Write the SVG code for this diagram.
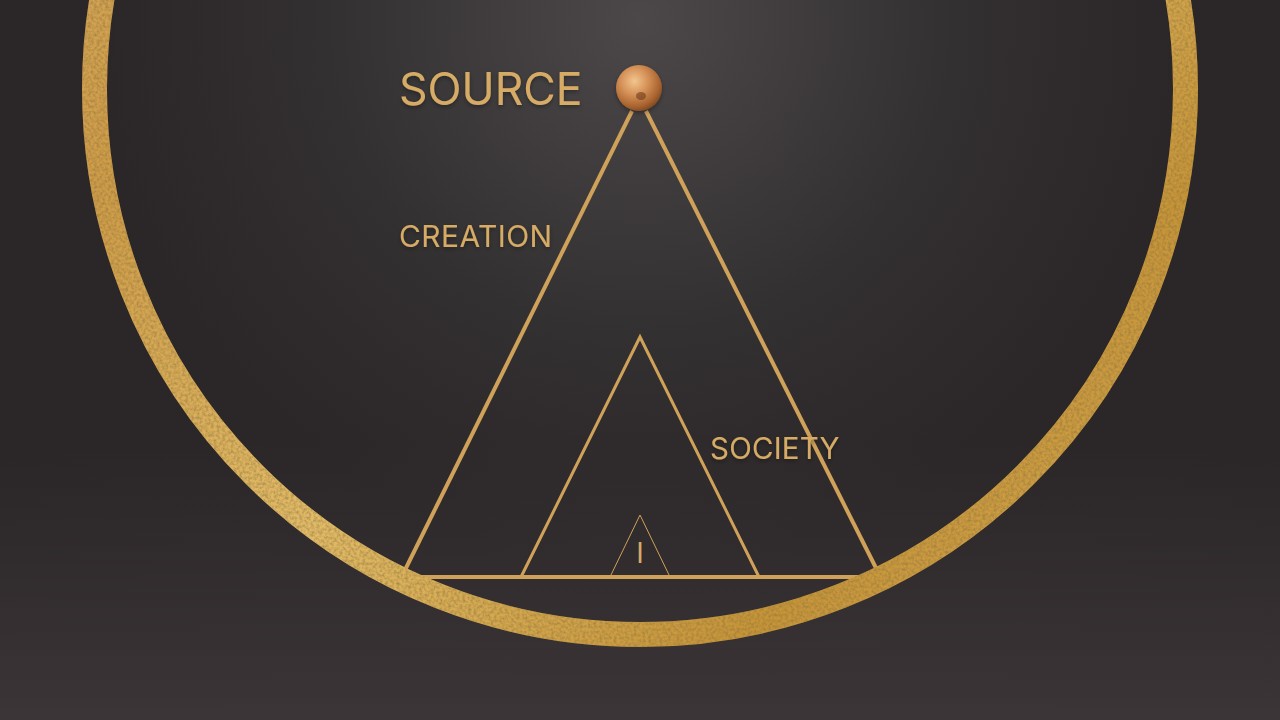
<svg xmlns="http://www.w3.org/2000/svg" width="1280" height="720" viewBox="0 0 1280 720">
  <defs>
    <radialGradient id="bg" cx="640" cy="20" r="900" gradientUnits="userSpaceOnUse">
      <stop offset="0" stop-color="#4c4849"/>
      <stop offset="0.35" stop-color="#333031"/>
      <stop offset="0.6" stop-color="#2b2628"/>
      <stop offset="1" stop-color="#2a2527"/>
    </radialGradient>
    <linearGradient id="floor" x1="0" y1="440" x2="0" y2="720" gradientUnits="userSpaceOnUse">
      <stop offset="0" stop-color="#3a3436" stop-opacity="0"/>
      <stop offset="1" stop-color="#3d3739" stop-opacity="0.9"/>
    </linearGradient>
    <linearGradient id="gold" x1="0" y1="0" x2="1" y2="1">
      <stop offset="0" stop-color="#ddb06a"/>
      <stop offset="0.3" stop-color="#cf9c48"/>
      <stop offset="0.55" stop-color="#e2bb68"/>
      <stop offset="0.8" stop-color="#c79438"/>
      <stop offset="1" stop-color="#d8ad5a"/>
    </linearGradient>
    <radialGradient id="sphere" cx="0.4" cy="0.35" r="0.7">
      <stop offset="0" stop-color="#f2c58f"/>
      <stop offset="0.4" stop-color="#d7945a"/>
      <stop offset="0.8" stop-color="#a8622e"/>
      <stop offset="1" stop-color="#7a4420"/>
    </radialGradient>
    <filter id="grain" x="-5%" y="-5%" width="110%" height="110%">
      <feTurbulence type="fractalNoise" baseFrequency="0.35" numOctaves="2" seed="3" result="n"/>
      <feColorMatrix in="n" type="matrix" values="0 0 0 0 0.25  0 0 0 0 0.18  0 0 0 0 0.05  0 0 0 1.3 -0.45" result="c"/>
      <feComposite in="c" in2="SourceGraphic" operator="in" result="t"/>
      <feMerge><feMergeNode in="SourceGraphic"/><feMergeNode in="t"/></feMerge>
    </filter>
    <filter id="shadow" x="-20%" y="-20%" width="140%" height="140%">
      <feDropShadow dx="0" dy="2" stdDeviation="2" flood-color="#000" flood-opacity="0.35"/>
    </filter>
  </defs>
  <style>
    .line { fill: none; stroke: #cfa159; stroke-linecap: butt; stroke-linejoin: miter; }
    .label { font-family: Inter, "Noto Sans", "Liberation Sans", sans-serif; fill: #d6ab65; }
  </style>

  <rect width="1280" height="720" fill="url(#bg)"/>
  <rect y="440" width="1280" height="280" fill="url(#floor)"/>

  <g id="connectors">
    <line class="line" x1="404" y1="577" x2="876" y2="577" stroke-width="4"/>
    <line class="line" x1="632" y1="111" x2="404" y2="572" stroke-width="4"/>
    <line class="line" x1="646" y1="111" x2="877" y2="570" stroke-width="4"/>
  </g>

  <g id="society-triangle">
    <polyline class="line" points="521,577 640,337 759,577" stroke-width="3"/>
  </g>

  <g id="i-triangle">
    <polyline class="line" points="610,577 640,515 670,577" stroke-width="1"/>
    <text class="label" x="640" y="563" font-size="28" text-anchor="middle">I</text>
  </g>

  <g id="ring">
    <circle cx="640" cy="89" r="545.5" fill="none" stroke="url(#gold)" stroke-width="25" filter="url(#grain)"/>
  </g>

  <g id="source">
    <circle cx="639" cy="88" r="23" fill="url(#sphere)" filter="url(#shadow)"/>
    <ellipse cx="641" cy="96" rx="5" ry="4" fill="#6e3a1c" opacity="0.6"/>
    <text class="label" x="399" y="105" font-size="44.5" filter="url(#shadow)">SOURCE</text>
  </g>

  <g id="creation">
    <text class="label" x="399" y="247" font-size="30" letter-spacing="0.4" filter="url(#shadow)">CREATION</text>
  </g>

  <g id="society">
    <text class="label" x="710" y="459" font-size="29.5" letter-spacing="0.2" filter="url(#shadow)">SOCIETY</text>
  </g>
</svg>
